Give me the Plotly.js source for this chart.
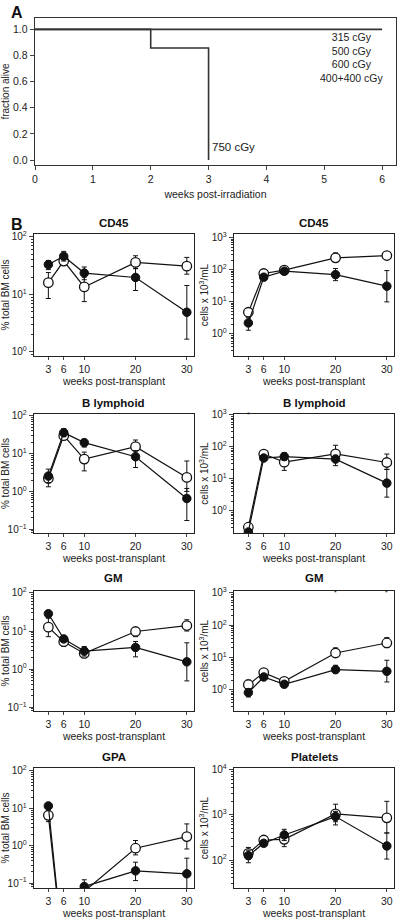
<!DOCTYPE html>
<html>
<head>
<meta charset="utf-8">
<script src="https://cdn.plot.ly/plotly-3.0.1.min.js"></script>
<style>html,body{margin:0;padding:0;background:#fff;}#chart{width:400px;height:920px;}</style>
</head>
<body>
<div id="chart"></div>
<script>
// ---------- Panel A: survival ----------
const survWeeksLow = [0, 6];
const survFracLow = [1, 1];
const survWeeks750 = [0, 2, 3];
const survFrac750 = [1, 0.857, 0];
const doseLabels = ['315 cGy', '500 cGy', '600 cGy', '400+400 cGy'];
const dose750Label = '750 cGy';

// ---------- Panel B: engraftment ----------
const weeks = [3, 6, 10, 20, 30];

const cd45PctOpen = [16, 38, 13.5, 36, 31];
const cd45PctOpenHi = [24, 44, 20, 47, 44];
const cd45PctOpenLo = [8.5, 33, 7.5, 28, 22.5];
const cd45PctFilled = [33, 46, 23.5, 19.7, 4.9];
const cd45PctFilledHi = [39, 56, 30, 28.5, 14.3];
const cd45PctFilledLo = [27, 38, 18, 11.7, 1.67];

const cd45CellOpen = [4.75, 77, 98, 237, 280];
const cd45CellOpenHi = [5.5, 88, 126, 340, 340];
const cd45CellOpenLo = [4.0, 67, 80, 186, 226];
const cd45CellFilled = [2.2, 59, 91, 71, 31];
const cd45CellFilledHi = [3.2, 68, 110, 110, 95];
const cd45CellFilledLo = [1.3, 50, 71, 46, 10];

const bPctOpen = [2.2, 30, 7.2, 15.3, 2.35];
const bPctOpenHi = [3.0, 38, 11, 23, 6.4];
const bPctOpenLo = [1.33, 24, 3.5, 9, 1.0];
const bPctFilled = [2.55, 36, 19.6, 8.3, 0.65];
const bPctFilledHi = [3.9, 46, 24, 12, 1.2];
const bPctFilledLo = [1.7, 28, 15, 4.3, 0.17];

const bCellOpen = [0.31, 60, 33.5, 61, 32.7];
const bCellOpenHi = [0.34, 66, 48, 113, 60];
const bCellOpenLo = [0.28, 54, 18.5, 35, 20];
const bCellFilled = [0.22, 45, 50, 41.7, 7.4];
const bCellFilledHi = [0.25, 52, 67, 55, 19.7];
const bCellFilledLo = [0.19, 38, 38, 26, 2.7];

const gmPctOpen = [12.6, 5.25, 2.58, 9.7, 13.9];
const gmPctOpenHi = [22, 6.5, 3.2, 11.8, 19.7];
const gmPctOpenLo = [7.1, 4.0, 2.0, 7.1, 10];
const gmPctFilled = [28.4, 6.2, 2.97, 3.7, 1.55];
const gmPctFilledHi = [33, 7.2, 3.9, 5.3, 4.9];
const gmPctFilledLo = [22, 5.2, 2.2, 2.1, 0.49];

const gmCellOpen = [1.46, 3.44, 1.85, 13.9, 28.4];
const gmCellOpenHi = [2.04, 3.9, 2.24, 20, 41.6];
const gmCellOpenLo = [1.1, 3.0, 1.5, 11.3, 20.4];
const gmCellFilled = [0.83, 2.52, 1.5, 4.25, 3.78];
const gmCellFilledHi = [1.1, 2.9, 1.8, 5.8, 8.3];
const gmCellFilledLo = [0.61, 2.2, 1.24, 3.36, 1.77];

const gpaPctOpen = [6.5, 0.001, 0.06, 0.86, 1.76];
const gpaPctOpenHi = [8.5, 0.0012, 0.07, 1.38, 3.84];
const gpaPctOpenLo = [4.4, 0.0008, 0.05, 0.57, 0.82];
const gpaPctFilled = [11.6, 0.001, 0.081, 0.213, 0.178];
const gpaPctFilledHi = [14.3, 0.0012, 0.123, 0.363, 0.465];
const gpaPctFilledLo = [9, 0.0008, 0.05, 0.117, 0.05];

const pltCellOpen = [141, 278, 288, 1052, 860];
const pltCellOpenHi = [190, 316, 360, 1730, 2000];
const pltCellOpenLo = [105, 240, 198, 706, 398];
const pltCellFilled = [125, 235, 359, 918, 205];
const pltCellFilledHi = [165, 270, 480, 1200, 398];
const pltCellFilledLo = [87, 205, 270, 600, 105];

const panelTitles = ['CD45', 'CD45', 'B lymphoid', 'B lymphoid', 'GM', 'GM', 'GPA', 'Platelets'];
const pctTitle = '% total BM cells';
const cellTitle = 'cells x 10<sup>3</sup>/mL';
const xTitleB = 'weeks post-transplant';
const xTitleA = 'weeks post-irradiation';
const yTitleA = 'fraction alive';

// ---------- layout helpers ----------
const W = 400, H = 920;
const FONT = 'Liberation Sans, Arial, Helvetica, sans-serif';
const INK = '#222';
const dX = (l, r) => [l / W, r / W];
const dY = (t, b) => [1 - b / H, 1 - t / H];
const pX = (px) => px / W;
const pY = (py) => 1 - py / H;

function powLabel(e) { return '10<sup>' + (e < 0 ? '\u2212' + (-e) : e) + '</sup>'; }

const panels = [
  {open: [cd45PctOpen, cd45PctOpenHi, cd45PctOpenLo], filled: [cd45PctFilled, cd45PctFilledHi, cd45PctFilledLo], exps: [0, 1, 2], range: [-0.07, 2.05]},
  {open: [cd45CellOpen, cd45CellOpenHi, cd45CellOpenLo], filled: [cd45CellFilled, cd45CellFilledHi, cd45CellFilledLo], exps: [0, 1, 2, 3], range: [-0.69, 3.12]},
  {open: [bPctOpen, bPctOpenHi, bPctOpenLo], filled: [bPctFilled, bPctFilledHi, bPctFilledLo], exps: [-1, 0, 1, 2], range: [-1.1, 2.05]},
  {open: [bCellOpen, bCellOpenHi, bCellOpenLo], filled: [bCellFilled, bCellFilledHi, bCellFilledLo], exps: [0, 1, 2, 3], range: [-0.69, 3.03]},
  {open: [gmPctOpen, gmPctOpenHi, gmPctOpenLo], filled: [gmPctFilled, gmPctFilledHi, gmPctFilledLo], exps: [-1, 0, 1, 2], range: [-1.1, 2.05]},
  {open: [gmCellOpen, gmCellOpenHi, gmCellOpenLo], filled: [gmCellFilled, gmCellFilledHi, gmCellFilledLo], exps: [0, 1, 2, 3], range: [-0.65, 3.06]},
  {open: [gpaPctOpen, gpaPctOpenHi, gpaPctOpenLo], filled: [gpaPctFilled, gpaPctFilledHi, gpaPctFilledLo], exps: [-1, 0, 1, 2], range: [-1.13, 2.08]},
  {open: [pltCellOpen, pltCellOpenHi, pltCellOpenLo], filled: [pltCellFilled, pltCellFilledHi, pltCellFilledLo], exps: [2, 3, 4], range: [1.38, 4.04]}
];

const rowsPx = [[234, 356], [414, 533], [591, 711], [768, 888]];
const colsPx = [[34, 194], [234, 394]];
const titleYPx = [223, 403, 578, 757];

function errY(v, hi, lo) {
  return {type: 'data', symmetric: false,
    array: v.map((x, i) => hi[i] - x), arrayminus: v.map((x, i) => x - lo[i]),
    color: '#111', thickness: 1, width: 2.5};
}

const traces = [];
const layout = {
  width: W, height: H, margin: {l: 0, r: 0, t: 0, b: 0},
  paper_bgcolor: '#fff', plot_bgcolor: '#fff', showlegend: false,
  font: {family: FONT, color: INK, size: 10},
  annotations: [], shapes: []
};

// Panel A
traces.push({x: survWeeksLow, y: survFracLow, xaxis: 'x', yaxis: 'y', mode: 'lines',
  line: {color: '#333', width: 1.6, shape: 'hv'}, hoverinfo: 'skip'});
traces.push({x: survWeeks750, y: survFrac750, xaxis: 'x', yaxis: 'y', mode: 'lines',
  line: {color: '#333', width: 1.6, shape: 'hv'}, hoverinfo: 'skip'});
layout.xaxis = {domain: dX(35, 396), range: [0, 6.24], dtick: 1, tick0: 0, ticks: 'outside', ticklen: 4,
  showline: true, mirror: true, linecolor: '#333', linewidth: 1.3, showgrid: false, zeroline: false,
  tickfont: {size: 10.5}, anchor: 'y',
  title: {text: xTitleA, font: {size: 10.5}, standoff: 6}};
layout.yaxis = {domain: dY(18, 165), range: [-0.038, 1.087], dtick: 0.2, tick0: 0, tickformat: '.1f',
  ticks: 'outside', ticklen: 4, showline: true, mirror: true, linecolor: '#333', linewidth: 1.3,
  showgrid: false, zeroline: false, tickfont: {size: 10.5}, anchor: 'x',
  title: {text: yTitleA, font: {size: 10}, standoff: 2}};
// stacked dose labels as one multi-line text (avoids overlapping boxes)
layout.annotations.push({text: doseLabels.join('<br>'), x: 5.48, y: 0.785, xref: 'x', yref: 'y',
  showarrow: false, xanchor: 'center', yanchor: 'middle', align: 'center',
  font: {size: 10.5, color: INK}});
layout.annotations.push({text: dose750Label, x: 3.03, y: 0.102, xref: 'x', yref: 'y', showarrow: false,
  xanchor: 'left', yanchor: 'middle', font: {size: 11.5, color: INK}});
layout.annotations.push({text: '<b>A</b>', x: pX(9), y: pY(13), xref: 'paper', yref: 'paper', showarrow: false,
  xanchor: 'left', yanchor: 'middle', font: {size: 16, color: '#111'}});
layout.annotations.push({text: '<b>B</b>', x: pX(9), y: pY(225), xref: 'paper', yref: 'paper', showarrow: false,
  xanchor: 'left', yanchor: 'middle', font: {size: 16, color: '#111'}});

// Panel B
panels.forEach((p, k) => {
  const n = k + 2;
  const xa = 'x' + n, ya = 'y' + n;
  const row = Math.floor(k / 2), col = k % 2;
  const [t, b] = rowsPx[row];
  const [l, r] = colsPx[col];
  const common = {x: weeks, xaxis: xa, yaxis: ya, mode: 'lines+markers', hoverinfo: 'skip',
    line: {color: '#111', width: 1.2}};
  traces.push(Object.assign({}, common, {y: p.open[0], error_y: errY(p.open[0], p.open[1], p.open[2]),
    marker: {symbol: 'circle', size: 9.5, color: '#fff', line: {color: '#111', width: 1.3}}}));
  traces.push(Object.assign({}, common, {y: p.filled[0], error_y: errY(p.filled[0], p.filled[1], p.filled[2]),
    marker: {symbol: 'circle', size: 8.5, color: '#111', line: {color: '#111', width: 1}}}));
  layout['xaxis' + n] = {domain: dX(l, r), range: [0.2, 31.4], tickmode: 'array', tickvals: weeks,
    ticks: 'outside', ticklen: 3, showline: true, mirror: true, linecolor: '#222', linewidth: 1.3,
    showgrid: false, zeroline: false, anchor: ya, tickfont: {size: 10.5},
    title: {text: xTitleB, font: {size: 10.5}, standoff: 2}};
  layout['yaxis' + n] = {domain: dY(t, b), type: 'log', range: p.range, tickmode: 'array',
    tickvals: p.exps.map(e => Math.pow(10, e)), ticktext: p.exps.map(powLabel),
    ticks: 'outside', ticklen: 4, showline: true, mirror: true, linecolor: '#222', linewidth: 1.3,
    minor: {ticks: 'outside', ticklen: 2, tickmode: 'linear', dtick: 'D1', tickcolor: '#333', showgrid: false},
    showgrid: false, zeroline: false, anchor: xa, tickfont: {size: 10},
    title: {text: col === 0 ? pctTitle : cellTitle, font: {size: 10}, standoff: 1}};
  layout.annotations.push({text: '<b>' + panelTitles[k] + '</b>', x: pX((l + r) / 2), y: pY(titleYPx[row]),
    xref: 'paper', yref: 'paper', showarrow: false, xanchor: 'center', yanchor: 'middle',
    font: {size: 11.5, color: '#111'}});
});

// significance marks
layout.annotations.push({text: '*', x: 3, y: 3, xref: 'x5', yref: 'y5', showarrow: false, font: {size: 7, color: '#111'}});
layout.annotations.push({text: '*', x: 20, y: 3, xref: 'x7', yref: 'y7', showarrow: false, font: {size: 7, color: '#111'}});
layout.annotations.push({text: '*', x: 30, y: 3, xref: 'x7', yref: 'y7', showarrow: false, font: {size: 7, color: '#111'}});

Plotly.newPlot('chart', traces, layout, {staticPlot: true, displayModeBar: false});
</script>
</body>
</html>
